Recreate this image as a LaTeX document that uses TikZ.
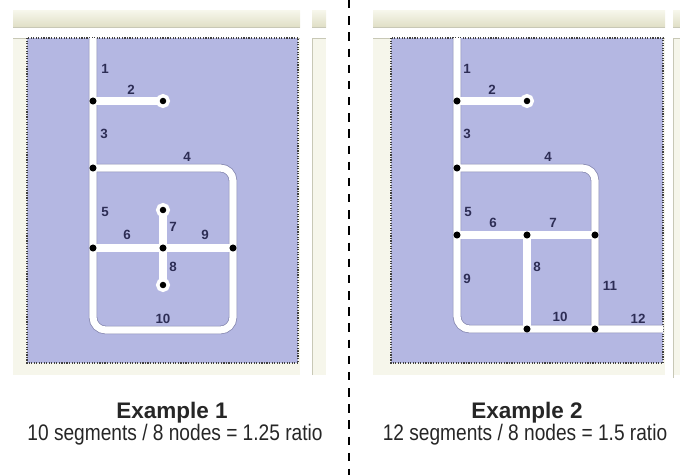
\documentclass[tikz,border=0pt]{standalone}
\usepackage{fontspec}
\setmainfont{Liberation Sans}
\newfontfamily\narrowfont[FakeStretch=0.85]{Liberation Sans}
\usetikzlibrary{positioning, backgrounds, calc}
\definecolor{panelblue}{RGB}{180,183,226}
\definecolor{framebeige}{RGB}{246,246,235}
\definecolor{frameedge}{RGB}{200,200,182}
\definecolor{bartop}{RGB}{247,247,236}
\definecolor{barbottom}{RGB}{224,223,198}
\definecolor{seglabel}{RGB}{45,45,85}
\definecolor{pathshade}{RGB}{130,132,172}

\begin{document}
\begin{tikzpicture}[
    x=0.025cm, y=-0.025cm,
    every node/.style={font=\small},
    junction/.style={circle, fill=black, inner sep=0pt, minimum size=5pt},
    endnode/.style={circle, fill=black, draw=white, line width=2.5pt,
        inner sep=0pt, minimum size=7.5pt},
    routeshade/.style={draw=pathshade, line width=6pt, rounded corners=9pt},
    route/.style={draw=white, line width=5pt, rounded corners=9pt},
    seglabel/.style={text=seglabel, font=\fontsize{9.5}{11}\selectfont\bfseries,
        inner sep=0pt},
    title/.style={font=\fontsize{16}{18}\selectfont\bfseries, text=black!85},
    subtitle/.style={font=\narrowfont\fontsize{16}{18}\selectfont, text=black!85},
]
\useasboundingbox (0,0) rectangle (680,475);

% === NODES (Example 1) ===
\node[junction] (l1) at (93,101) {};
\node[endnode]  (l2) at (163,101) {};
\node[junction] (l3) at (93,168) {};
\node[junction] (l4) at (93,248) {};
\node[junction] (l5) at (163,248) {};
\node[junction] (l6) at (233,248) {};
\node[endnode]  (l7) at (163,210) {};
\node[endnode]  (l8) at (163,285) {};
\coordinate (ltop) at (93,38);
\coordinate (lk1) at (93,330);
\coordinate (lk2) at (233,330);
\coordinate (lk3) at (233,168);

% === NODES (Example 2) ===
\node[junction] (r1) at (457,101) {};
\node[endnode]  (r2) at (527,101) {};
\node[junction] (r3) at (457,168) {};
\node[junction] (r4) at (457,235) {};
\node[junction] (r5) at (527,235) {};
\node[junction] (r6) at (595,235) {};
\node[junction] (r7) at (527,329) {};
\node[junction] (r8) at (595,329) {};
\coordinate (rtop) at (457,38);
\coordinate (rk1) at (457,329);
\coordinate (rk2) at (595,168);
\coordinate (rend) at (663,329);

\begin{scope}[on background layer]
% === FRAMES ===
\shade[top color=bartop, bottom color=barbottom] (13,10) rectangle (300,27);
\shade[top color=bartop, bottom color=barbottom] (312,10) rectangle (326,27);
\shade[top color=bartop, bottom color=barbottom] (373,10) rectangle (665,27);
\shade[top color=bartop, bottom color=barbottom] (673,10) rectangle (680,27);
\draw[frameedge] (13,27) -- (300,27) (312,27) -- (326,27)
    (373,27) -- (665,27) (673,27) -- (680,27);
\fill[framebeige] (13,38) rectangle (300,375);
\fill[framebeige] (312,38) rectangle (326,375);
\fill[framebeige] (373,38) rectangle (665,375);
\fill[framebeige] (673,38) rectangle (680,375);
\draw[frameedge] (13,38) -- (300,38) (312,375) -- (312,38) -- (326,38)
    (373,38) -- (665,38) (673,378) -- (673,38) -- (680,38);
\fill[panelblue] (27,38) rectangle (298,363);
\fill[panelblue] (391,38) rectangle (663,363);
\draw[black!75, densely dotted, line width=0.8pt] (27,38) rectangle (298,363);
\draw[black!75, densely dotted, line width=0.8pt] (391,38) rectangle (663,363);

% === ROUTES ===
\foreach \st in {routeshade, route} {
    \draw[\st] (ltop) -- (l1.center) -- (l3.center) -- (l4.center) -- (lk1)
        -- (lk2) -- (l6.center) -- (lk3) -- (l3.center);
    \draw[\st] (l1.center) -- (l2.center);
    \draw[\st] (l4.center) -- (l5.center) -- (l6.center);
    \draw[\st] (l7.center) -- (l5.center) -- (l8.center);
    \draw[\st] (rtop) -- (r1.center) -- (r3.center) -- (r4.center) -- (rk1)
        -- (r7.center) -- (r8.center) -- (rend);
    \draw[\st] (r1.center) -- (r2.center);
    \draw[\st] (r3.center) -- (rk2) -- (r6.center) -- (r8.center);
    \draw[\st] (r4.center) -- (r5.center) -- (r6.center);
    \draw[\st] (r5.center) -- (r7.center);
}
\end{scope}

% === SEGMENT LABELS (Example 1) ===
\node[seglabel] (ls1) at (105,69) {1};
\node[seglabel] (ls2) at (131,90) {2};
\node[seglabel] (ls3) at (104,134) {3};
\node[seglabel] (ls4) at (187,157) {4};
\node[seglabel] (ls5) at (105,212) {5};
\node[seglabel] (ls6) at (127,235) {6};
\node[seglabel] (ls7) at (173,227) {7};
\node[seglabel] (ls8) at (173,267) {8};
\node[seglabel] (ls9) at (205,235) {9};
\node[seglabel] (ls10) at (163,319) {10};

% === SEGMENT LABELS (Example 2) ===
\node[seglabel] (rs1) at (467,69) {1};
\node[seglabel] (rs2) at (492,90) {2};
\node[seglabel] (rs3) at (467,134) {3};
\node[seglabel] (rs4) at (548,157) {4};
\node[seglabel] (rs5) at (468,212) {5};
\node[seglabel] (rs6) at (493,223) {6};
\node[seglabel] (rs7) at (553,223) {7};
\node[seglabel] (rs8) at (537,267) {8};
\node[seglabel] (rs9) at (467,279) {9};
\node[seglabel] (rs10) at (560,317) {10};
\node[seglabel] (rs11) at (610,286) {11};
\node[seglabel] (rs12) at (638,319) {12};

% === SEPARATOR ===
\coordinate (sepa) at (349,0);
\coordinate (sepb) at (349,475);
\draw[black, line width=1.8pt, dash pattern=on 6pt off 5.5pt] (sepa) -- (sepb);

% === CAPTIONS ===
\node[title] (cap1) at (172,413) {Example 1};
\node[subtitle] (sub1) at (175,435) {10 segments / 8 nodes = 1.25 ratio};
\node[title] (cap2) at (527,413) {Example 2};
\node[subtitle] (sub2) at (525,435) {12 segments / 8 nodes = 1.5 ratio};

\end{tikzpicture}
\end{document}
